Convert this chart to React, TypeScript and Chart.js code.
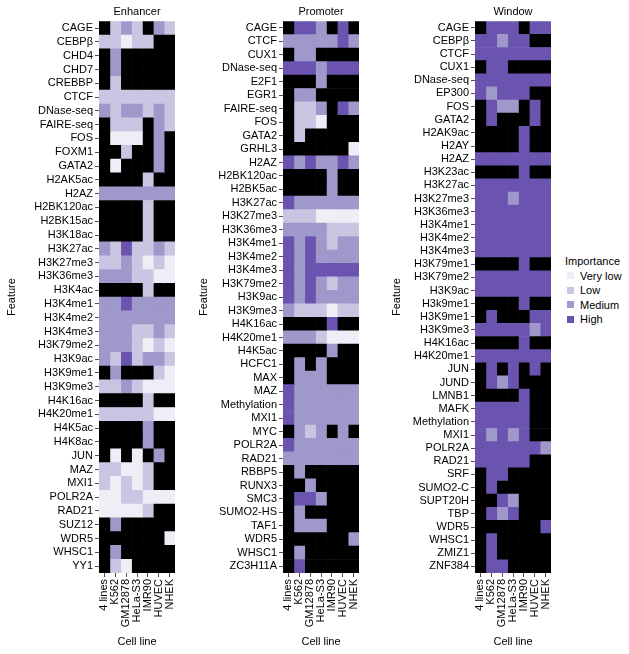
import React, { useEffect, useRef } from 'react';
import { Chart, registerables } from 'chart.js';

Chart.register(...registerables);

const FONT = "'Liberation Sans', Arial, Helvetica, sans-serif";

const CELL_LINES = ['4 lines', 'K562', 'GM12878', 'HeLa-S3', 'IMR90', 'HUVEC', 'NHEK'];
const LEVEL_NAMES = ['Very low', 'Low', 'Medium', 'High'];
// index 0 = not available (black), 1..4 = importance levels
const LEVEL_COLORS = ['#000000', '#efedf5', '#c9c5e2', '#9f98cb', '#6a54b0'];

const ENHANCER_FEATURES = [
  'CAGE', 'CEBPβ', 'CHD4', 'CHD7', 'CREBBP', 'CTCF', 'DNase-seq', 'FAIRE-seq', 'FOS', 'FOXM1',
  'GATA2', 'H2AK5ac', 'H2AZ', 'H2BK120ac', 'H2BK15ac', 'H3K18ac', 'H3K27ac', 'H3K27me3', 'H3K36me3', 'H3K4ac',
  'H3K4me1', 'H3K4me2', 'H3K4me3', 'H3K79me2', 'H3K9ac', 'H3K9me1', 'H3K9me3', 'H4K16ac', 'H4K20me1', 'H4K5ac',
  'H4K8ac', 'JUN', 'MAZ', 'MXI1', 'POLR2A', 'RAD21', 'SUZ12', 'WDR5', 'WHSC1', 'YY1',
];
const ENHANCER_LEVELS = [
  [0, 2, 3, 2, 0, 3, 2], [2, 2, 1, 2, 2, 0, 0], [0, 3, 0, 0, 0, 0, 0], [0, 3, 0, 0, 0, 0, 0], [0, 2, 0, 0, 0, 0, 0],
  [2, 2, 2, 2, 2, 2, 2], [3, 2, 3, 3, 2, 3, 2], [0, 2, 2, 2, 0, 3, 2], [0, 1, 1, 1, 0, 3, 0], [0, 0, 2, 0, 0, 3, 0],
  [0, 1, 0, 0, 0, 3, 0], [0, 0, 0, 0, 2, 0, 0], [3, 3, 3, 3, 3, 3, 3], [0, 0, 0, 0, 2, 0, 0], [0, 0, 0, 0, 2, 0, 0],
  [0, 0, 0, 0, 2, 0, 0], [3, 2, 4, 2, 2, 3, 2], [2, 2, 3, 2, 1, 2, 1], [3, 3, 3, 2, 2, 1, 1], [0, 0, 0, 0, 2, 0, 0],
  [3, 3, 4, 3, 3, 3, 3], [3, 3, 3, 3, 3, 3, 3], [3, 3, 3, 2, 2, 3, 2], [3, 3, 3, 2, 1, 2, 1], [3, 2, 4, 2, 3, 3, 2],
  [0, 3, 0, 0, 0, 2, 1], [2, 2, 3, 2, 1, 1, 1], [0, 0, 0, 0, 2, 0, 0], [2, 2, 2, 2, 2, 1, 1], [0, 0, 0, 0, 3, 0, 0],
  [0, 0, 0, 0, 3, 0, 0], [0, 1, 0, 1, 0, 3, 0], [2, 2, 1, 1, 2, 0, 0], [2, 1, 2, 1, 2, 0, 0], [1, 1, 2, 2, 1, 1, 1],
  [1, 1, 1, 1, 2, 0, 0], [0, 3, 0, 0, 0, 0, 0], [0, 0, 0, 0, 0, 0, 1], [0, 3, 0, 0, 0, 0, 0], [0, 2, 1, 0, 0, 0, 0],
];

const PROMOTER_FEATURES = [
  'CAGE', 'CTCF', 'CUX1', 'DNase-seq', 'E2F1', 'EGR1', 'FAIRE-seq', 'FOS', 'GATA2', 'GRHL3',
  'H2AZ', 'H2BK120ac', 'H2BK5ac', 'H3K27ac', 'H3K27me3', 'H3K36me3', 'H3K4me1', 'H3K4me2', 'H3K4me3', 'H3K79me2',
  'H3K9ac', 'H3K9me3', 'H4K16ac', 'H4K20me1', 'H4K5ac', 'HCFC1', 'MAX', 'MAZ', 'Methylation', 'MXI1',
  'MYC', 'POLR2A', 'RAD21', 'RBBP5', 'RUNX3', 'SMC3', 'SUMO2-HS', 'TAF1', 'WDR5', 'WHSC1', 'ZC3H11A',
];
const PROMOTER_LEVELS = [
  [0, 4, 4, 3, 0, 4, 0], [3, 3, 3, 3, 3, 4, 3], [0, 3, 3, 0, 0, 0, 0], [4, 4, 4, 3, 4, 4, 4], [0, 0, 0, 3, 0, 0, 0],
  [0, 3, 3, 0, 0, 0, 0], [0, 2, 2, 3, 0, 4, 3], [0, 2, 2, 1, 0, 0, 0], [0, 2, 0, 0, 0, 0, 0], [0, 0, 0, 0, 0, 0, 1],
  [4, 3, 4, 3, 3, 4, 3], [0, 0, 0, 0, 3, 0, 0], [0, 0, 0, 0, 3, 0, 0], [4, 3, 3, 3, 3, 3, 3], [2, 2, 2, 1, 1, 1, 1],
  [3, 3, 3, 3, 2, 2, 2], [4, 3, 4, 3, 2, 3, 3], [4, 3, 4, 3, 3, 3, 3], [4, 3, 4, 4, 4, 4, 4], [4, 3, 4, 3, 2, 3, 3],
  [4, 3, 4, 3, 3, 3, 3], [3, 2, 2, 2, 1, 2, 2], [0, 0, 0, 0, 4, 0, 0], [3, 3, 3, 2, 1, 1, 1], [0, 0, 0, 0, 3, 0, 0],
  [0, 3, 0, 3, 0, 0, 0], [0, 3, 3, 3, 0, 0, 0], [4, 3, 3, 3, 3, 3, 3], [4, 3, 3, 3, 3, 3, 3], [4, 3, 3, 3, 3, 3, 3],
  [0, 3, 2, 3, 0, 3, 0], [4, 3, 3, 3, 3, 3, 3], [3, 3, 3, 3, 3, 3, 3], [0, 3, 0, 0, 0, 0, 0], [0, 0, 3, 0, 0, 0, 0],
  [0, 4, 4, 3, 0, 0, 0], [0, 3, 0, 0, 0, 0, 0], [0, 3, 3, 3, 0, 0, 0], [0, 0, 0, 0, 0, 0, 3], [0, 3, 0, 0, 0, 0, 0],
  [0, 4, 0, 0, 0, 0, 0],
];

const WINDOW_FEATURES = [
  'CAGE', 'CEBPβ', 'CTCF', 'CUX1', 'DNase-seq', 'EP300', 'FOS', 'GATA2', 'H2AK9ac', 'H2AY',
  'H2AZ', 'H3K23ac', 'H3K27ac', 'H3K27me3', 'H3K36me3', 'H3K4me1', 'H3K4me2', 'H3K4me3', 'H3K79me1', 'H3K79me2',
  'H3K9ac', 'H3k9me1', 'H3K9me1', 'H3K9me3', 'H4K16ac', 'H4K20me1', 'JUN', 'JUND', 'LMNB1', 'MAFK',
  'Methylation', 'MXI1', 'POLR2A', 'RAD21', 'SRF', 'SUMO2-C', 'SUPT20H', 'TBP', 'WDR5', 'WHSC1',
  'ZMIZ1', 'ZNF384',
];
const WINDOW_LEVELS = [
  [0, 4, 4, 4, 0, 4, 4], [4, 4, 3, 4, 4, 0, 0], [4, 4, 4, 4, 4, 4, 4], [0, 4, 4, 0, 0, 0, 0], [4, 4, 4, 4, 4, 4, 4],
  [4, 3, 4, 4, 4, 0, 0], [0, 4, 3, 3, 0, 4, 0], [0, 4, 0, 0, 0, 4, 0], [0, 0, 0, 0, 4, 0, 0], [0, 0, 0, 0, 4, 0, 0],
  [4, 4, 4, 4, 4, 4, 4], [0, 0, 0, 0, 4, 0, 0], [4, 4, 4, 4, 4, 4, 4], [4, 4, 4, 3, 4, 4, 4], [4, 4, 4, 4, 4, 4, 4],
  [4, 4, 4, 4, 4, 4, 4], [4, 4, 4, 4, 4, 4, 4], [4, 4, 4, 4, 4, 4, 4], [0, 0, 0, 0, 4, 0, 0], [4, 4, 4, 4, 4, 4, 4],
  [4, 4, 4, 4, 4, 4, 4], [0, 0, 0, 0, 4, 0, 0], [0, 4, 0, 0, 0, 4, 4], [4, 4, 4, 4, 4, 3, 4], [0, 0, 0, 0, 4, 0, 0],
  [4, 4, 4, 4, 4, 4, 4], [0, 4, 0, 4, 0, 4, 0], [0, 4, 3, 4, 0, 0, 0], [0, 0, 0, 0, 4, 0, 0], [4, 4, 4, 4, 4, 0, 0],
  [4, 4, 4, 4, 4, 0, 0], [4, 3, 4, 3, 4, 0, 0], [4, 4, 4, 4, 4, 4, 3], [4, 4, 4, 4, 4, 0, 0], [0, 4, 4, 0, 0, 0, 0],
  [0, 4, 0, 0, 0, 0, 0], [0, 0, 4, 3, 0, 0, 0], [0, 4, 3, 4, 0, 0, 0], [0, 0, 0, 0, 0, 0, 4], [0, 4, 0, 0, 0, 0, 0],
  [0, 4, 0, 0, 0, 0, 0], [0, 4, 4, 0, 0, 0, 0],
];

const CANVAS_H = 654;
const X_AXIS_H = 81;
const RIGHT_PAD = 13;

type PanelProps = {
  title: string;
  features: string[];
  levels: number[][];
  left: number;
  axisWidth: number;
  plotWidth: number;
};

function HeatPanel({ title, features, levels, left, axisWidth, plotWidth }: PanelProps) {
  const ref = useRef<HTMLCanvasElement | null>(null);
  const width = axisWidth + plotWidth + RIGHT_PAD;

  useEffect(() => {
    if (!ref.current) return;
    const tickFont = { family: FONT, size: 11, weight: 'normal' as const };
    const chart = new Chart(ref.current, {
      type: 'bar',
      data: {
        labels: features,
        datasets: CELL_LINES.map((cl, j) => ({
          label: cl,
          data: features.map(() => 1),
          backgroundColor: features.map((_, i) => LEVEL_COLORS[levels[i][j]]),
          borderWidth: 0,
          barPercentage: 1,
          categoryPercentage: 1,
        })),
      },
      options: {
        animation: false,
        responsive: false,
        maintainAspectRatio: false,
        indexAxis: 'y',
        layout: { padding: { left: 0, right: RIGHT_PAD, top: 0, bottom: 0 } },
        plugins: {
          legend: { display: false },
          tooltip: { enabled: false },
          title: {
            display: true,
            text: title,
            fullSize: false,
            color: '#000',
            font: { family: FONT, size: 11, weight: 'normal' },
            padding: { top: 5, bottom: 3 },
          },
        },
        scales: {
          x: {
            type: 'linear',
            stacked: true,
            min: 0,
            max: CELL_LINES.length,
            afterBuildTicks: (s: any) => {
              s.ticks = CELL_LINES.map((_, i) => ({ value: i + 0.5 }));
            },
            afterFit: (s: any) => {
              s.height = X_AXIS_H;
            },
            ticks: {
              autoSkip: false,
              minRotation: 90,
              maxRotation: 90,
              padding: 2,
              color: '#000',
              font: tickFont,
              callback: (v: any) => CELL_LINES[Math.floor(Number(v))],
            },
            grid: {
              display: true,
              drawOnChartArea: false,
              drawTicks: true,
              tickLength: 4,
              tickColor: '#222',
              tickWidth: 0.8,
            },
            border: { display: false },
            title: {
              display: true,
              text: 'Cell line',
              color: '#000',
              font: { family: FONT, size: 11, weight: 'normal' },
              padding: { top: 4, bottom: 5 },
            },
          },
          y: {
            type: 'category',
            stacked: true,
            offset: true,
            afterFit: (s: any) => {
              s.width = axisWidth;
            },
            ticks: {
              autoSkip: false,
              padding: 2,
              color: '#000',
              font: tickFont,
            },
            grid: {
              display: true,
              offset: false,
              drawOnChartArea: false,
              drawTicks: true,
              tickLength: 4,
              tickColor: '#222',
              tickWidth: 0.8,
            },
            border: { display: false },
            title: {
              display: true,
              text: 'Feature',
              color: '#000',
              font: { family: FONT, size: 11, weight: 'normal' },
              padding: { top: 5, bottom: 4 },
            },
          },
        },
      } as any,
    });
    return () => chart.destroy();
  }, [title, features, levels, axisWidth, plotWidth]);

  return (
    <canvas
      ref={ref}
      width={width}
      height={CANVAS_H}
      style={{ position: 'absolute', left, top: 0, width, height: CANVAS_H }}
    />
  );
}

export default function App() {
  return (
    <div
      style={{
        position: 'absolute',
        left: 0,
        top: 0,
        width: 629,
        height: 654,
        background: '#fff',
        overflow: 'hidden',
      }}
    >
      <HeatPanel title="Enhancer" features={ENHANCER_FEATURES} levels={ENHANCER_LEVELS} left={0} axisWidth={99} plotWidth={76} />
      <HeatPanel title="Promoter" features={PROMOTER_FEATURES} levels={PROMOTER_LEVELS} left={192} axisWidth={91} plotWidth={76} />
      <HeatPanel title="Window" features={WINDOW_FEATURES} levels={WINDOW_LEVELS} left={385} axisWidth={90} plotWidth={76} />
      <div
        style={{
          position: 'absolute',
          left: 565,
          top: 254,
          fontFamily: FONT,
          fontSize: 11,
          color: '#000',
          lineHeight: '14.5px',
        }}
      >
        <div>Importance</div>
        {LEVEL_NAMES.map((name, i) => (
          <div key={name} style={{ display: 'flex', alignItems: 'center', height: 14.5 }}>
            <span
              style={{
                display: 'inline-block',
                width: 7,
                height: 7,
                marginLeft: 2,
                marginRight: 6,
                background: LEVEL_COLORS[i + 1],
              }}
            />
            {name}
          </div>
        ))}
      </div>
    </div>
  );
}
